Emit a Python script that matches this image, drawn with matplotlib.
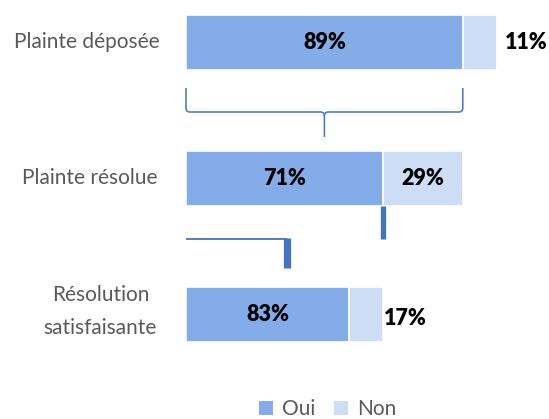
import matplotlib
matplotlib.use("Agg")
import matplotlib.pyplot as plt
from matplotlib.patches import Patch
from matplotlib.path import Path
from matplotlib.patches import PathPatch
import numpy as np

categories = ["Plainte déposée", "Plainte résolue", "Résolution\nsatisfaisante"]
oui = [89, 71, 83]
non = [11, 29, 17]
series_names = ["Oui", "Non"]

c_oui = "#84ACE8"
c_non = "#CCDDF5"
c_line = "#4472C4"
c_txt = "#595959"
FONT = "Lato"

W, H = 549, 419
fig = plt.figure(figsize=(W / 100, H / 100), dpi=100)
x0, x1 = 186, 497
ax = fig.add_axes([x0 / W, 0, (x1 - x0) / W, 1])
ax.set_xlim(0, 100)
ax.set_ylim(2 + (H - 314.5) / 136, -42.5 / 136)
ax.axis("off")

# funnel scaling: each bar's total equals the previous bar's "Oui" width
totals = [100.0]
for v in oui[:-1]:
    totals.append(totals[-1] * v / 100)
totals = np.array(totals)
oui_w = totals * np.array(oui) / 100
non_w = totals * np.array(non) / 100
y = np.arange(len(categories))
bh = 55 / 136

ax.barh(y, oui_w, height=bh, color=c_oui, edgecolor="white", linewidth=1.2)
ax.barh(y, non_w, left=oui_w, height=bh, color=c_non, edgecolor="white", linewidth=1.2)

VFS = 15.5
# value labels
for i in range(len(categories)):
    ax.text(oui_w[i] / 2, y[i], f"{oui[i]}%", ha="center", va="center",
            fontsize=VFS, fontweight="heavy", family=FONT, color="black")
inside = [False, True, False]
out_off = [2.4, None, 0.5]
for i in range(len(categories)):
    if inside[i]:
        ax.text(oui_w[i] + non_w[i] / 2, y[i], f"{non[i]}%", ha="center", va="center",
                fontsize=VFS, fontweight="heavy", family=FONT, color="black")
    else:
        ax.text(totals[i] + out_off[i], y[i] + (0.03 if i == 2 else 0), f"{non[i]}%",
                ha="left", va="center", fontsize=VFS, fontweight="heavy", family=FONT,
                color="black", clip_on=False)

# category labels
lab_x = [160, 158, 157]
for i, c in enumerate(categories):
    xd = (lab_x[i] - x0) / (x1 - x0) * 100
    ax.text(xd, y[i] - (0.02 if "\n" in c else 0), c, ha="right", va="center",
            multialignment="center", fontsize=15, fontweight="normal", family=FONT,
            color=c_txt, linespacing=1.8, clip_on=False)

# brace under first bar spanning its "Oui" part
def py(p):
    return (p - 42.5) / 136

bx0, bx1 = 0.0, oui_w[0]
bm = (bx0 + bx1) / 2
yt, ym, yb = py(88), py(112), py(137)
r = 1.2
ry = 0.03
verts = [(bx0, yt), (bx0, ym - ry), (bx0, ym), (bx0 + r, ym),
         (bm - r, ym), (bm, ym), (bm, ym + ry), (bm, yb)]
codes = [Path.MOVETO, Path.LINETO, Path.CURVE3, Path.CURVE3,
         Path.LINETO, Path.CURVE3, Path.CURVE3, Path.LINETO]
ax.add_patch(PathPatch(Path(verts, codes), fill=False, ec=c_line, lw=1.1, clip_on=False))
verts2 = [(bx1, yt), (bx1, ym - ry), (bx1, ym), (bx1 - r, ym),
          (bm + r, ym), (bm, ym), (bm, ym + ry)]
codes2 = [Path.MOVETO, Path.LINETO, Path.CURVE3, Path.CURVE3,
          Path.LINETO, Path.CURVE3, Path.CURVE3]
ax.add_patch(PathPatch(Path(verts2, codes2), fill=False, ec=c_line, lw=1.1, clip_on=False))

# connector decorations below second bar
def py2(p):
    return 1 + (p - 178.5) / 136

ax.plot([oui_w[1], oui_w[1]], [1 + bh / 2, py2(239)], color=c_line, lw=3.8,
        solid_capstyle="butt")
xh = (287 - x0) / (x1 - x0) * 100
ax.plot([0, xh], [py2(239.5), py2(239.5)], color=c_line, lw=1.3, solid_capstyle="butt")
ax.plot([xh, xh], [py2(238.5), py2(268)], color=c_line, lw=5.2, solid_capstyle="butt")

handles = [Patch(facecolor=c_oui, label=series_names[0]),
           Patch(facecolor=c_non, label=series_names[1])]
leg = fig.legend(handles=handles, loc="center", bbox_to_anchor=(328 / W, 1 - 409 / H),
                 ncol=2, frameon=False, handlelength=0.65, handleheight=0.65,
                 handletextpad=0.45, columnspacing=0.9,
                 prop={"family": FONT, "size": 15, "weight": "normal"})
for t in leg.get_texts():
    t.set_color(c_txt)

fig.savefig("out.png", dpi=100)
